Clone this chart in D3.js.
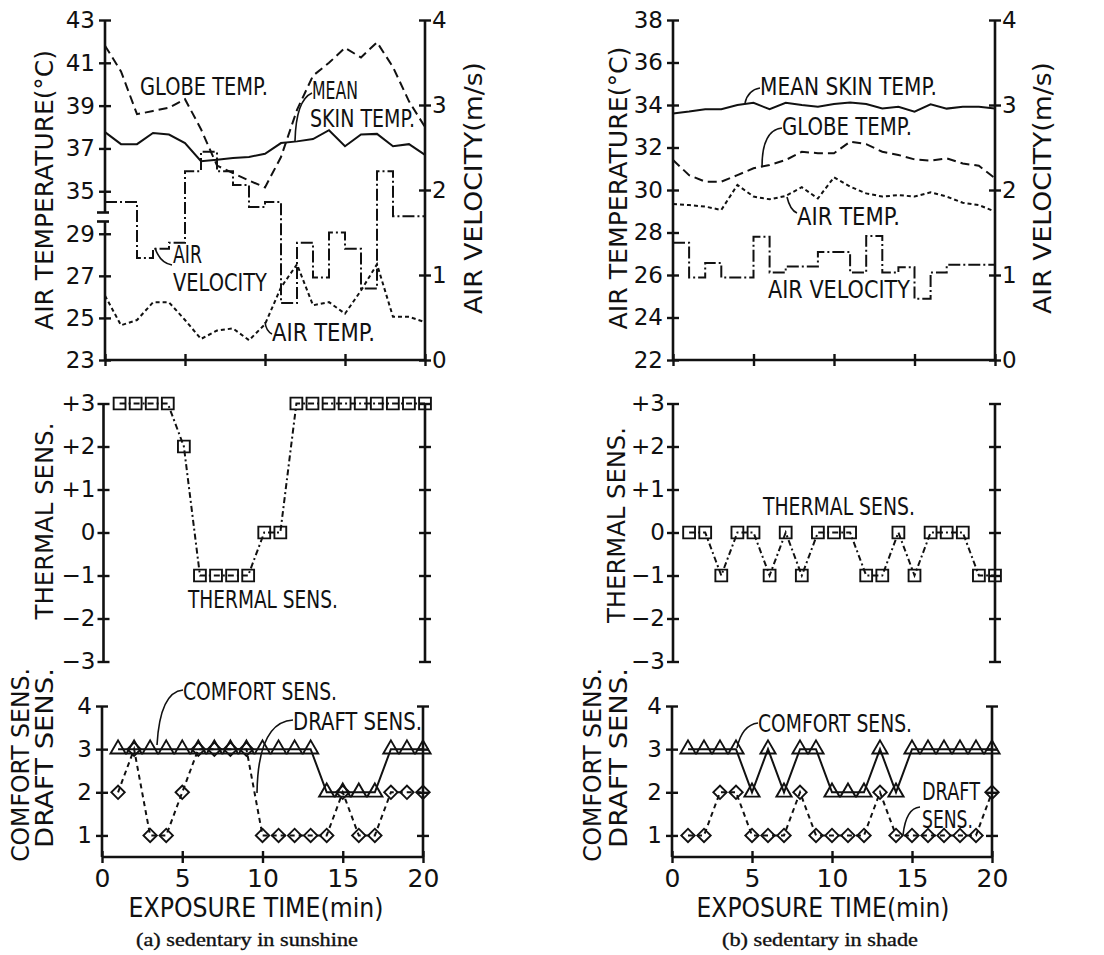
<!DOCTYPE html>
<html>
<head>
<meta charset="utf-8">
<script src="https://cdn.jsdelivr.net/npm/d3@7"></script>
<style>
  body { margin: 0; background: #fff; }
  text { font-family: "DejaVu Sans", sans-serif; fill: #111; }
  .caption { font-family: "Liberation Serif", serif; stroke: #111; stroke-width: 0.35; }
</style>
</head>
<body>
<script>
// time (min)
var minutes = [0, 1, 2, 3, 4, 5, 6, 7, 8, 9, 10, 11, 12, 13, 14, 15, 16, 17, 18, 19, 20];
var sensMinutes = [1, 2, 3, 4, 5, 6, 7, 8, 9, 10, 11, 12, 13, 14, 15, 16, 17, 18, 19, 20];
var timeTicks = [0, 5, 10, 15, 20];

// (a) sedentary in sunshine
var sunSkin = [37.76, 37.2, 37.2, 37.72, 37.65, 37.25, 36.4, 36.47, 36.55, 36.6, 36.75, 37.25, 37.33, 37.44, 37.85, 37.1, 37.65, 37.68, 37.1, 37.2, 36.7];
var sunGlobe = [41.8, 40.6, 38.6, 38.75, 38.9, 39.3, 37.9, 36.2, 35.85, 35.5, 35.18, 36.6, 38.8, 40.4, 41.0, 41.7, 41.25, 41.96, 40.8, 39.2, 38.0];
var sunAirTemp = [26.06, 24.65, 24.9, 25.74, 25.74, 24.9, 24.0, 24.4, 24.5, 23.94, 24.7, 26.45, 27.55, 25.6, 25.75, 25.2, 26.3, 27.55, 25.05, 25.05, 24.8];
var sunVelocity = [1.86, 1.86, 1.2, 1.31, 1.38, 2.22, 2.45, 2.22, 2.06, 1.8, 1.86, 0.67, 1.38, 0.97, 1.5, 1.31, 0.84, 2.22, 1.69, 1.69];
var sunThermal = [3, 3, 3, 3, 2, -1, -1, -1, -1, 0, 0, 3, 3, 3, 3, 3, 3, 3, 3, 3];
var sunComfort = [3, 3, 3, 3, 3, 3, 3, 3, 3, 3, 3, 3, 3, 2, 2, 2, 2, 3, 3, 3];
var sunDraft = [2, 3, 1, 1, 2, 3, 3, 3, 3, 1, 1, 1, 1, 1, 2, 1, 1, 2, 2, 2];

// (b) sedentary in shade
var shadeSkin = [33.6, 33.69, 33.8, 33.8, 34.0, 34.1, 33.8, 34.1, 34.0, 33.92, 34.05, 34.12, 34.05, 33.84, 33.92, 33.69, 34.03, 33.83, 33.92, 33.92, 33.84];
var shadeGlobe = [31.41, 30.7, 30.39, 30.39, 30.7, 31.02, 31.18, 31.41, 31.8, 31.73, 31.73, 32.27, 32.16, 31.8, 31.65, 31.44, 31.38, 31.49, 31.25, 31.14, 30.55];
var shadeAirTemp = [29.34, 29.29, 29.22, 29.06, 30.24, 29.69, 29.56, 29.72, 30.13, 29.6, 30.6, 30.16, 29.84, 29.69, 29.76, 29.69, 29.89, 29.69, 29.4, 29.29, 28.98];
var shadeVelocity = [1.38, 0.97, 1.14, 0.97, 0.97, 1.45, 1.03, 1.1, 1.1, 1.27, 1.27, 1.03, 1.46, 1.03, 1.09, 0.72, 1.03, 1.12, 1.12, 1.12];
var shadeThermal = [0, 0, -1, 0, 0, -1, 0, -1, 0, 0, 0, -1, -1, 0, -1, 0, 0, 0, -1, -1];
var shadeComfort = [3, 3, 3, 3, 2, 3, 2, 3, 3, 2, 2, 2, 3, 2, 3, 3, 3, 3, 3, 3];
var shadeDraft = [1, 1, 2, 2, 1, 1, 1, 2, 1, 1, 1, 1, 2, 1, 1, 1, 1, 1, 1, 2];

// tick labels
var sunTempTicks = [23, 25, 27, 29, 35, 37, 39, 41, 43];
var shadeTempTicks = [22, 24, 26, 28, 30, 32, 34, 36, 38];
var velocityTicks = [0, 1, 2, 3, 4];
var thermalTicks = [3, 2, 1, 0, -1, -2, -3];
var sensTicks = [1, 2, 3, 4];

var svg = d3.select("body").append("svg").attr("width", 1104).attr("height", 955);
var INK = "#111";

// text squeezed horizontally to a target width (the original lettering is condensed)
function fit(t, len) {
  var w = t.node().getComputedTextLength();
  return len && w ? len / w : 1;
}
function hlabel(text, x, y, len, size, anchor, cls) {
  var t = svg.append("text").attr("font-size", size)
    .attr("text-anchor", anchor || "start").attr("class", cls || null).text(text);
  t.attr("transform", "translate(" + x + "," + y + ") scale(" + fit(t, len) + ",1)");
  return t;
}
function vlabel(text, cx, cy, len, size, anchor) {
  var t = svg.append("text").attr("font-size", size)
    .attr("text-anchor", anchor || "middle").attr("dominant-baseline", "central").text(text);
  t.attr("transform", "translate(" + cx + "," + cy + ") rotate(-90) scale(" + fit(t, len) + ",1)");
  return t;
}
function leader(d) {
  svg.append("path").attr("d", d).attr("fill", "none").attr("stroke", INK).attr("stroke-width", 1.6);
}
function vline(x, y1, y2) {
  svg.append("line").attr("x1", x).attr("x2", x).attr("y1", y1).attr("y2", y2)
    .attr("stroke", INK).attr("stroke-width", 2.6);
}
function hline(y, x1, x2) {
  svg.append("line").attr("x1", x1).attr("x2", x2).attr("y1", y).attr("y2", y)
    .attr("stroke", INK).attr("stroke-width", 2.6);
}

// axis with crossing ticks, no domain path
function axis(gen, scale, tx, ty, ticks, fmt, pad, size) {
  var g = svg.append("g").attr("transform", "translate(" + tx + "," + ty + ")")
    .call(gen(scale).tickValues(ticks).tickFormat(fmt).tickSize(6).tickSizeOuter(0).tickPadding(pad));
  g.select(".domain").remove();
  g.selectAll(".tick line").attr("stroke", INK).attr("stroke-width", 2.4);
  if (gen === d3.axisLeft || gen === d3.axisRight) g.selectAll(".tick line").attr("x1", -6).attr("x2", 6);
  else g.selectAll(".tick line").attr("y1", -6).attr("y2", 6);
  g.selectAll(".tick text").attr("font-family", "DejaVu Sans").attr("font-size", size || 23).attr("fill", INK);
  return g;
}

function series(xs, ys, t, v, dash, curve) {
  var line = d3.line().x(function (d) { return xs(d[0]); }).y(function (d) { return ys(d[1]); });
  if (curve) line.curve(curve);
  svg.append("path").datum(t.map(function (m, i) { return [m, v[i]]; }))
    .attr("d", line).attr("fill", "none").attr("stroke", INK).attr("stroke-width", 2)
    .attr("stroke-dasharray", dash || null);
}
function markers(xs, ys, t, v, type, size, rot) {
  svg.append("g").selectAll("path").data(t.map(function (m, i) { return [m, v[i]]; }))
    .join("path").attr("d", d3.symbol(type, size))
    .attr("transform", function (d) { return "translate(" + xs(d[0]) + "," + ys(d[1]) + ")" + (rot ? " rotate(" + rot + ")" : ""); })
    .attr("fill", "none").attr("stroke", INK).attr("stroke-width", 1.9);
}

var columns = [
  {
    skin: sunSkin, globe: sunGlobe, air: sunAirTemp, vel: sunVelocity,
    thermal: sunThermal, comfort: sunComfort, draft: sunDraft,
    tempTicks: sunTempTicks,
    temp: d3.scaleLinear().domain([23, 29, 35, 43]).range([360, 233.75, 191.25, 20]),
    xTop: [105, 425], xMid: [103.5, 425], xBot: [102, 423],
    broken: true,
    tempLabel: [44, 190, 280], velLabel: [473, 188, 252],
    thermLabel: [44, 521, 197], comfortLabel: [20, 668, 194], draftLabel: [44, 668, 180],
    timeLabel: [256, 255], caption: ["(a) sedentary in sunshine", 247, 222]
  },
  {
    skin: shadeSkin, globe: shadeGlobe, air: shadeAirTemp, vel: shadeVelocity,
    thermal: shadeThermal, comfort: shadeComfort, draft: shadeDraft,
    tempTicks: shadeTempTicks,
    temp: d3.scaleLinear().domain([22, 38]).range([360, 20]),
    xTop: [673, 995], xMid: [673, 995], xBot: [672, 992],
    broken: false,
    tempLabel: [619, 188, 283], velLabel: [1042, 188, 252],
    thermLabel: [616, 525, 196], comfortLabel: [592, 668, 194], draftLabel: [618, 668, 180],
    timeLabel: [823, 253], caption: ["(b) sedentary in shade", 820, 196]
  }
];

var velY = d3.scaleLinear().domain([0, 4]).range([360, 20]);
var thermY = d3.scaleLinear().domain([-3, 3]).range([661.5, 403.5]);
var sensY = d3.scaleLinear().domain([0.5, 4]).range([857, 706]);

columns.forEach(function (c) {
  // ---------- top panel: temperatures and air velocity ----------
  var x = d3.scaleLinear().domain([0, 20]).range(c.xTop);
  var L = c.xTop[0], R = c.xTop[1];

  if (c.broken) {
    vline(L, 20, 212.5); vline(L, 221.5, 360);
    hline(212.5, L - 8, L + 4); hline(221.5, L - 8, L + 4);
  } else {
    vline(L, 20, 360);
  }
  vline(R, 20, 360);
  hline(360, L, R);
  axis(d3.axisLeft, c.temp, L, 0, c.tempTicks, d3.format("d"), 4);
  axis(d3.axisRight, velY, R, 0, velocityTicks, d3.format("d"), 1);
  axis(d3.axisBottom, x, 0, 360, timeTicks, "", 0);

  series(x, c.temp, minutes, c.skin, null);
  series(x, c.temp, minutes, c.globe, "9,5");
  series(x, c.temp, minutes, c.air, "4,3");
  series(x, velY, minutes, c.vel.concat(c.vel.slice(-1)), "12,3,2,3", d3.curveStepAfter);

  vlabel("AIR TEMPERATURE(°C)", c.tempLabel[0], c.tempLabel[1], c.tempLabel[2], 25);
  vlabel("AIR VELOCITY(m/s)", c.velLabel[0], c.velLabel[1], c.velLabel[2], 25);

  // ---------- middle panel: thermal sensation ----------
  var xm = d3.scaleLinear().domain([0, 20]).range(c.xMid);
  vline(c.xMid[0], 403.5, 661.5);
  vline(c.xMid[1], 403.5, 661.5);
  axis(d3.axisLeft, thermY, c.xMid[0], 0, thermalTicks, function (d) { return d > 0 ? "+" + d : d < 0 ? "\u2212" + (-d) : "0"; }, 2);
  axis(d3.axisRight, thermY, c.xMid[1], 0, thermalTicks, "", 0);
  series(xm, thermY, sensMinutes, c.thermal, "6,3,2,3");
  markers(xm, thermY, sensMinutes, c.thermal, d3.symbolSquare, 140);
  vlabel("THERMAL SENS.", c.thermLabel[0], c.thermLabel[1], c.thermLabel[2], 25);

  // ---------- bottom panel: comfort and draft sensation ----------
  var xb = d3.scaleLinear().domain([0, 20]).range(c.xBot);
  vline(c.xBot[0], 706, 857);
  vline(c.xBot[1], 706, 857);
  hline(857, c.xBot[0], c.xBot[1]);
  axis(d3.axisLeft, sensY, c.xBot[0], 0, sensTicks, d3.format("d"), 4);
  axis(d3.axisRight, sensY, c.xBot[1], 0, sensTicks, "", 0);
  axis(d3.axisBottom, xb, 0, 857, timeTicks, d3.format("d"), 6, 25);

  series(xb, sensY, sensMinutes, c.comfort, null);
  series(xb, sensY, sensMinutes, c.draft, "5,4");
  markers(xb, sensY, sensMinutes, c.comfort, d3.symbolTriangle, 100);
  markers(xb, sensY, sensMinutes, c.draft, d3.symbolSquare, 90, 45);

  vlabel("COMFORT SENS.", c.comfortLabel[0], c.comfortLabel[1], c.comfortLabel[2], 25, "end");
  vlabel("DRAFT SENS.", c.draftLabel[0], c.draftLabel[1], c.draftLabel[2], 25, "end");
  hlabel("EXPOSURE TIME(min)", c.timeLabel[0], 917, c.timeLabel[1], 27, "middle");
  hlabel(c.caption[0], c.caption[1], 946, c.caption[2], 19, "middle", "caption");
});

// ---------- in-plot annotations ----------
var FS = 24;
hlabel("GLOBE TEMP.", 140, 95, 128, FS);
hlabel("MEAN", 312, 99, 46, FS);
hlabel("SKIN TEMP.", 310, 127, 105, FS);
hlabel("AIR", 173, 263, 29, FS);
hlabel("VELOCITY", 173, 291, 94, FS);
hlabel("AIR TEMP.", 272, 341, 103, FS);
leader("M295,141 Q296,100 312,93");
leader("M155,248 Q160,263 172,265");
leader("M265,322 Q266,331 272,334");

hlabel("MEAN SKIN TEMP.", 760, 95, 177, FS);
hlabel("GLOBE TEMP.", 782, 135, 130, FS);
hlabel("AIR TEMP.", 797, 225, 103, FS);
hlabel("AIR VELOCITY", 768, 298, 142, FS);
leader("M745,103 Q748,90 760,88");
leader("M762,167 Q762,130 782,128");
leader("M787,197 Q790,210 797,213");

hlabel("THERMAL SENS.", 188, 608, 150, FS);
hlabel("THERMAL SENS.", 763, 515, 152, FS);

hlabel("COMFORT SENS.", 183, 700, 154, FS);
hlabel("DRAFT SENS.", 293, 730, 129, FS);
leader("M157,745 Q160,692 183,690");
leader("M257,793 Q258,722 293,720");

hlabel("COMFORT SENS.", 758, 732, 154, FS);
hlabel("DRAFT", 922, 800, 58, FS);
hlabel("SENS.", 922, 828, 51, FS);
leader("M737,748 Q742,725 758,723");
leader("M903,835 Q906,808 920,807");
</script>
</body>
</html>
